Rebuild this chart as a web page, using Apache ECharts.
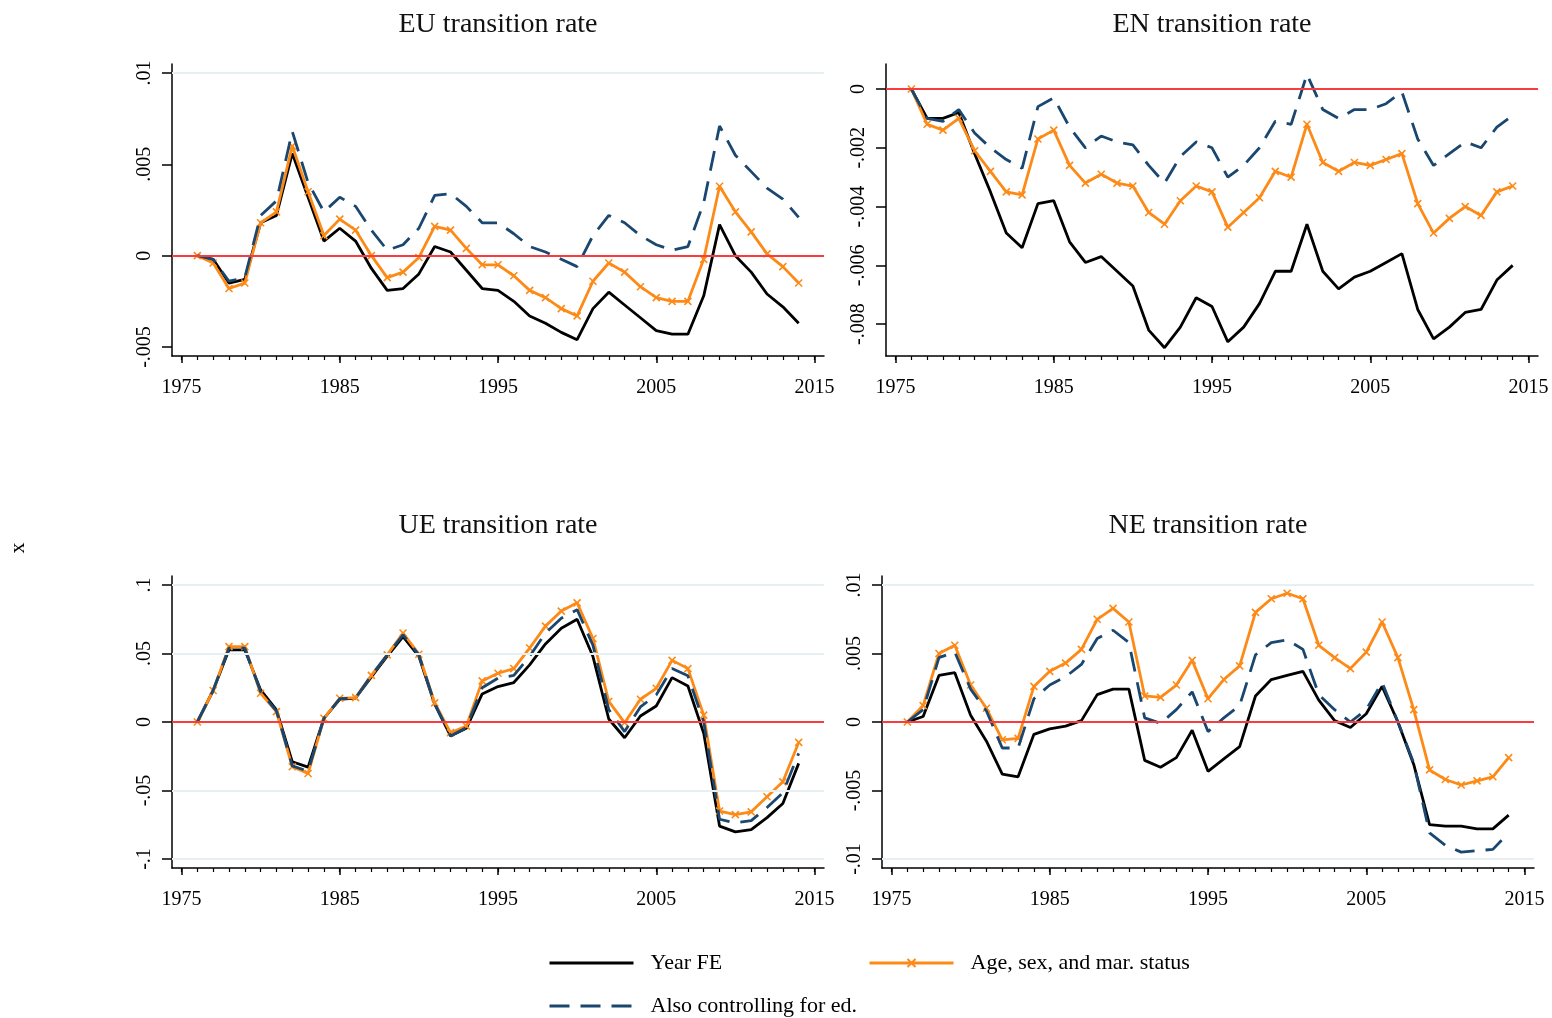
<!DOCTYPE html>
<html>
<head>
<meta charset="utf-8">
<script src="https://cdn.jsdelivr.net/npm/echarts@6/dist/echarts.min.js"></script>
<style>
  html, body { margin: 0; padding: 0; background: #fff; }
  #chart { width: 1552px; height: 1018px; }
</style>
</head>
<body>
<div id="chart"></div>
<script>
// years on the x axis
const years = [1976, 1977, 1978, 1979, 1980, 1981, 1982, 1983, 1984, 1985,
  1986, 1987, 1988, 1989, 1990, 1991, 1992, 1993, 1994, 1995,
  1996, 1997, 1998, 1999, 2000, 2001, 2002, 2003, 2004, 2005,
  2006, 2007, 2008, 2009, 2010, 2011, 2012, 2013, 2014];
const xTicks = [1975, 1985, 1995, 2005, 2015];

// EU
const euYearFE = [0, -0.0002, -0.0015, -0.0013, 0.0018, 0.0022, 0.0056, 0.0032, 0.0008, 0.0015,
  0.0008, -0.0007, -0.0019, -0.0018, -0.0010, 0.0005, 0.0002, -0.0008, -0.0018, -0.0019,
  -0.0025, -0.0033, -0.0037, -0.0042, -0.0046, -0.0029, -0.0020, -0.0027, -0.0034, -0.0041,
  -0.0043, -0.0043, -0.0022, 0.0017, 0.0000, -0.0009, -0.0021, -0.0028, -0.0037];
const euDemog = [0, -0.0004, -0.0018, -0.0015, 0.0018, 0.0024, 0.0060, 0.0035, 0.0011, 0.0020,
  0.0014, 0.0000, -0.0012, -0.0009, -0.0001, 0.0016, 0.0014, 0.0004, -0.0005, -0.0005,
  -0.0011, -0.0019, -0.0023, -0.0029, -0.0033, -0.0014, -0.0004, -0.0009, -0.0017, -0.0023,
  -0.0025, -0.0025, -0.0002, 0.0038, 0.0024, 0.0013, 0.0001, -0.0006, -0.0015];
const euEduc = [0, -0.0002, -0.0014, -0.0012, 0.0022, 0.0030, 0.0068, 0.0040, 0.0024, 0.0032,
  0.0027, 0.0014, 0.0003, 0.0006, 0.0015, 0.0033, 0.0034, 0.0027, 0.0018, 0.0018,
  0.0012, 0.0005, 0.0002, -0.0002, -0.0006, 0.0011, 0.0022, 0.0018, 0.0011, 0.0006,
  0.0003, 0.0005, 0.0029, 0.0071, 0.0055, 0.0046, 0.0037, 0.0031, 0.0021];
const euTicks = [-0.005, 0, 0.005, 0.01];
const euTickLabels = ['-.005', '0', '.005', '.01'];

// EN
const enYearFE = [0, -0.0010, -0.0010, -0.0008, -0.0022, -0.0035, -0.0049, -0.0054, -0.0039, -0.0038,
  -0.0052, -0.0059, -0.0057, -0.0062, -0.0067, -0.0082, -0.0088, -0.0081, -0.0071, -0.0074,
  -0.0086, -0.0081, -0.0073, -0.0062, -0.0062, -0.0046, -0.0062, -0.0068, -0.0064, -0.0062,
  -0.0059, -0.0056, -0.0075, -0.0085, -0.0081, -0.0076, -0.0075, -0.0065, -0.0060];
const enDemog = [0, -0.0012, -0.0014, -0.0010, -0.0021, -0.0028, -0.0035, -0.0036, -0.0017, -0.0014,
  -0.0026, -0.0032, -0.0029, -0.0032, -0.0033, -0.0042, -0.0046, -0.0038, -0.0033, -0.0035,
  -0.0047, -0.0042, -0.0037, -0.0028, -0.0030, -0.0012, -0.0025, -0.0028, -0.0025, -0.0026,
  -0.0024, -0.0022, -0.0039, -0.0049, -0.0044, -0.0040, -0.0043, -0.0035, -0.0033];
const enEduc = [0, -0.0010, -0.0011, -0.0007, -0.0015, -0.0020, -0.0024, -0.0027, -0.0006, -0.0003,
  -0.0013, -0.0020, -0.0016, -0.0018, -0.0019, -0.0026, -0.0032, -0.0023, -0.0018, -0.0020,
  -0.0030, -0.0026, -0.0020, -0.0011, -0.0012, 0.0005, -0.0007, -0.0010, -0.0007, -0.0007,
  -0.0005, -0.0001, -0.0017, -0.0026, -0.0022, -0.0018, -0.0020, -0.0013, -0.0009];
const enTicks = [-0.008, -0.006, -0.004, -0.002, 0];
const enTickLabels = ['-.008', '-.006', '-.004', '-.002', '0'];

// UE
const ueYearFE = [0, 0.023, 0.0527, 0.0527, 0.0234, 0.0088, -0.029, -0.033, 0.0027, 0.0165,
  0.0175, 0.033, 0.048, 0.0624, 0.048, 0.013, -0.0102, -0.0046, 0.0205, 0.0259,
  0.0288, 0.0417, 0.057, 0.0685, 0.075, 0.0478, 0.0022, -0.0115, 0.0044, 0.0117,
  0.0324, 0.0263, -0.0083, -0.076, -0.0802, -0.0785, -0.0698, -0.0595, -0.0302];
const ueDemog = [0, 0.023, 0.055, 0.055, 0.021, 0.0076, -0.0327, -0.0376, 0.0027, 0.0173,
  0.0178, 0.034, 0.049, 0.065, 0.0495, 0.014, -0.0078, -0.003, 0.030, 0.0356,
  0.039, 0.054, 0.070, 0.081, 0.087, 0.061, 0.015, -0.0005, 0.0166, 0.0246,
  0.045, 0.039, 0.005, -0.065, -0.0676, -0.0656, -0.0546, -0.0437, -0.0149];
const ueEduc = [0, 0.023, 0.054, 0.054, 0.022, 0.008, -0.032, -0.036, 0.0027, 0.017,
  0.0175, 0.034, 0.049, 0.0637, 0.049, 0.0135, -0.0102, -0.004, 0.025, 0.032,
  0.034, 0.048, 0.065, 0.0758, 0.082, 0.056, 0.009, -0.007, 0.011, 0.0198,
  0.039, 0.0337, 0.0002, -0.071, -0.0737, -0.072, -0.0624, -0.0517, -0.0229];
const ueTicks = [-0.1, -0.05, 0, 0.05, 0.1];
const ueTickLabels = ['-.1', '-.05', '0', '.05', '.1'];

// NE
const neYearFE = [0, 0.0004, 0.0034, 0.0036, 0.0005, -0.0014, -0.0038, -0.0040, -0.0009, -0.0005,
  -0.0003, 0.0001, 0.0020, 0.0024, 0.0024, -0.0028, -0.0033, -0.0026, -0.0006, -0.0036,
  -0.0027, -0.0018, 0.0019, 0.0031, 0.0034, 0.0037, 0.0016, 0.0001, -0.0004, 0.0006,
  0.0026, 0.0000, -0.0031, -0.0075, -0.0076, -0.0076, -0.0078, -0.0078, -0.0068];
const neDemog = [0, 0.0012, 0.0050, 0.0056, 0.0027, 0.0010, -0.0013, -0.0012, 0.0026, 0.0037,
  0.0043, 0.0053, 0.0075, 0.0083, 0.0073, 0.0019, 0.0018, 0.0027, 0.0045, 0.0017,
  0.0031, 0.0041, 0.0080, 0.0090, 0.0094, 0.0090, 0.0056, 0.0047, 0.0039, 0.0051,
  0.0073, 0.0047, 0.0009, -0.0035, -0.0042, -0.0046, -0.0043, -0.0040, -0.0026];
const neEduc = [0, 0.0009, 0.0047, 0.0051, 0.0024, 0.0008, -0.0019, -0.0019, 0.0017, 0.0027,
  0.0033, 0.0042, 0.0061, 0.0067, 0.0058, 0.0003, -0.0001, 0.0009, 0.0022, -0.0007,
  0.0003, 0.0012, 0.0049, 0.0058, 0.0060, 0.0053, 0.0020, 0.0009, 0.0000, 0.0009,
  0.0029, 0.0000, -0.0030, -0.0081, -0.0090, -0.0095, -0.0094, -0.0093, -0.0081];
const neTicks = [-0.01, -0.005, 0, 0.005, 0.01];
const neTickLabels = ['-.01', '-.005', '0', '.005', '.01'];

const seriesNames = ['Year FE', 'Age, sex, and mar. status', 'Also controlling for ed.'];

const FONT = 'Liberation Serif, Times New Roman, serif';
const BLACK = '#000000';
const ORANGE = '#fd8a17';
const NAVY = '#1a476f';

// panel layout: grid box and y range (Stata pads the plot region a little)
const panels = [
  { title: 'EU transition rate', left: 172, top: 64, titleTop: 11, min: -0.005494, max: 0.010494,
    ticks: euTicks, labels: euTickLabels, data: [euYearFE, euDemog, euEduc] },
  { title: 'EN transition rate', left: 886, top: 64, titleTop: 11, min: -0.009082, max: 0.00085,
    ticks: enTicks, labels: enTickLabels, data: [enYearFE, enDemog, enEduc] },
  { title: 'UE transition rate', left: 172, top: 576, titleTop: 512, min: -0.1066, max: 0.1066,
    ticks: ueTicks, labels: ueTickLabels, data: [ueYearFE, ueDemog, ueEduc] },
  { title: 'NE transition rate', left: 882, top: 576, titleTop: 512, min: -0.01066, max: 0.01066,
    ticks: neTicks, labels: neTickLabels, data: [neYearFE, neDemog, neEduc] }
];
const W = 652, H = 292;
const xMin = 1974.4, xMax = 2015.6;
const minorYears = [];
for (let y = 1975; y <= 2015; y++) minorYears.push(y);

const xMark = 'path://M0,0L10,10M10,0L0,10';

const grid = [], xAxis = [], yAxis = [], series = [], title = [];
panels.forEach((p, i) => {
  grid.push({ left: p.left, top: p.top, width: W, height: H });
  title.push({
    text: p.title, left: p.left + W / 2, top: p.titleTop, textAlign: 'center', padding: 0,
    textStyle: { fontFamily: FONT, fontSize: 28, fontWeight: 'normal', color: '#111' }
  });
  xAxis.push({
    type: 'value', gridIndex: i, min: xMin, max: xMax, position: 'bottom',
    axisLine: { show: true, onZero: false, lineStyle: { color: '#000', width: 1.5 } },
    axisTick: { show: true, customValues: xTicks, length: 7, lineStyle: { color: '#000', width: 1.5 } },
    axisLabel: { customValues: xTicks, margin: 22, fontFamily: FONT, fontSize: 20, color: '#000',
      formatter: v => String(Math.round(v)) },
    splitLine: { show: false }
  });
  // minor year ticks
  xAxis.push({
    type: 'value', gridIndex: i, min: xMin, max: xMax, position: 'bottom',
    axisLine: { show: false, onZero: false },
    axisTick: { show: true, customValues: minorYears, length: 4, lineStyle: { color: '#000', width: 1.2 } },
    axisLabel: { show: false },
    splitLine: { show: false }
  });
  yAxis.push({
    type: 'value', gridIndex: i, min: p.min, max: p.max,
    axisLine: { show: true, onZero: false, lineStyle: { color: '#000', width: 1.5 } },
    axisTick: { show: true, customValues: p.ticks, length: 10, lineStyle: { color: '#000', width: 1.5 } },
    axisLabel: {
      customValues: p.ticks, rotate: 90, margin: 17, fontFamily: FONT, fontSize: 20, color: '#000',
      formatter: v => {
        const k = p.ticks.findIndex(t => Math.abs(t - v) < 1e-9);
        return k >= 0 ? p.labels[k] : '';
      }
    },
    splitLine: { show: false }
  });

  // gridlines and red zero line
  const lines = p.ticks.map(t => ({ yAxis: t, lineStyle: { color: '#e6eff1', width: 2, type: 'solid' } }));
  lines.push({ yAxis: 0, lineStyle: { color: '#ff0000', width: 1.5, type: 'solid' } });
  series.push({
    type: 'line', xAxisIndex: 2 * i, yAxisIndex: i, data: [], z: 1, silent: true,
    markLine: { symbol: ['none', 'none'], silent: true, animation: false, label: { show: false }, data: lines }
  });

  const styles = [
    { color: BLACK, lineStyle: { color: BLACK, width: 2.8 }, symbol: 'none' },
    { color: ORANGE, lineStyle: { color: ORANGE, width: 2.8 }, symbol: xMark, symbolSize: 7,
      itemStyle: { color: ORANGE, borderColor: ORANGE, borderWidth: 1.6 } },
    { color: NAVY, lineStyle: { color: NAVY, width: 2.8, type: [20, 11] }, symbol: 'none' }
  ];
  p.data.forEach((vals, s) => {
    series.push(Object.assign({
      name: seriesNames[s], type: 'line', xAxisIndex: 2 * i, yAxisIndex: i, z: 2 + s,
      showSymbol: s === 1, showAllSymbol: true,
      data: years.map((yr, k) => [yr, vals[k]])
    }, styles[s]));
  });
});

const legendText = { fontFamily: FONT, fontSize: 22, color: '#000', padding: [0, 0, 0, 12] };
const noDot = { color: 'rgba(0,0,0,0)', borderWidth: 0 };
const legendBase = { itemWidth: 84, itemHeight: 10, padding: 0, textStyle: legendText, lineStyle: { width: 3 } };
const chart = echarts.init(document.getElementById('chart'));
chart.setOption({
  backgroundColor: '#fff',
  animation: false,
  title: title,
  grid: grid,
  xAxis: xAxis,
  yAxis: yAxis,
  series: series,
  legend: [
    Object.assign({ data: [{ name: seriesNames[0], itemStyle: noDot }], left: 548, top: 952 }, legendBase),
    Object.assign({ data: [{ name: seriesNames[1] }], left: 868, top: 952 }, legendBase),
    Object.assign({ data: [{ name: seriesNames[2], itemStyle: noDot }], left: 548, top: 995 }, legendBase)
  ],
  graphic: [{
    type: 'text', x: 18, y: 548, rotation: Math.PI / 2,
    style: { text: 'x', font: '22px ' + FONT, fill: '#000', align: 'center', verticalAlign: 'middle' }
  }]
});
</script>
</body>
</html>
